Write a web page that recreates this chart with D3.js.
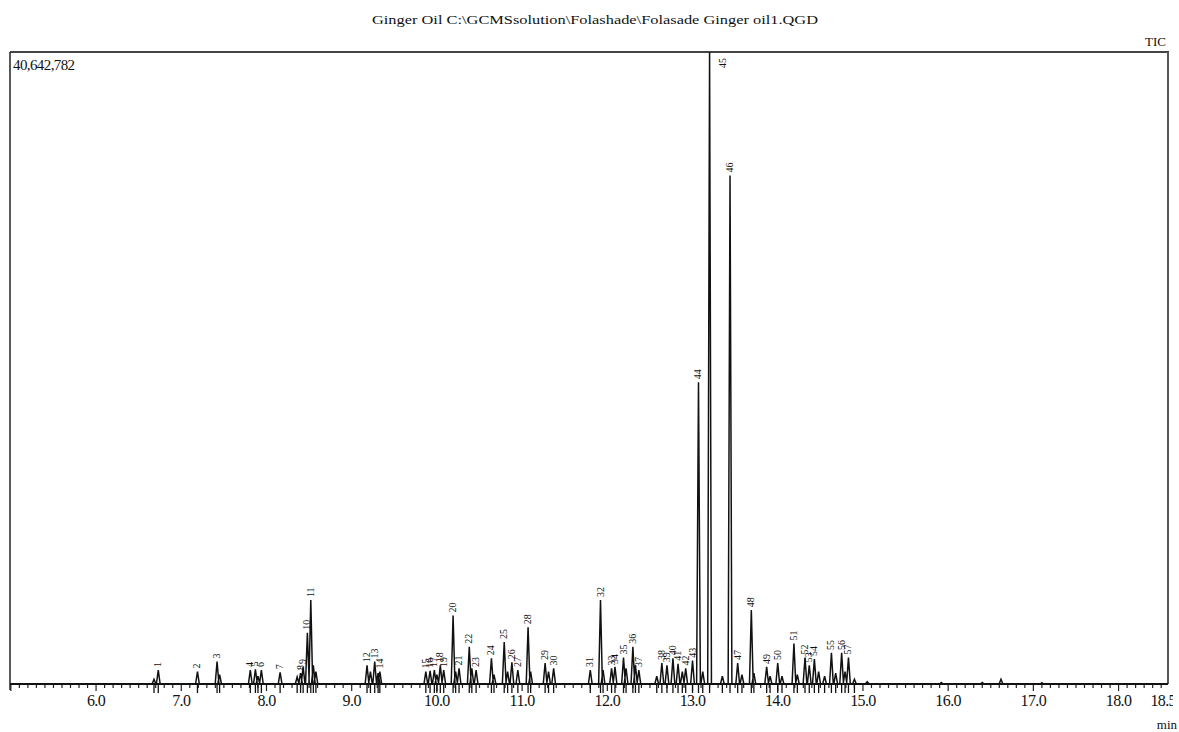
<!DOCTYPE html>
<html>
<head>
<meta charset="utf-8">
<script src="https://cdn.jsdelivr.net/npm/d3@7"></script>
<style>
  html, body { margin: 0; padding: 0; background: #fff; }
  svg { display: block; }
  text { font-family: "Liberation Serif", "DejaVu Serif", serif; fill: #111; }
</style>
</head>
<body>
<div id="chart"></div>
<script>
// labelled peaks: number, retention time (min), intensity (millions)
const peakIds   = [1, 2, 3, 4, 5, 6, 7, 8, 9, 10, 11, 12, 13, 14, 15, 16, 17, 18, 19, 20,
                   21, 22, 23, 24, 25, 26, 27, 28, 29, 30, 31, 32, 33, 34, 35, 36, 37, 38, 39, 40,
                   41, 42, 43, 44, 45, 46, 47, 48, 49, 50, 51, 52, 53, 54, 55, 56, 57];
const peakTimes = [6.73, 7.19, 7.42, 7.81, 7.87, 7.94, 8.16, 8.40, 8.43, 8.48, 8.52, 9.18, 9.27, 9.33, 9.87, 9.92, 9.97, 10.04, 10.08, 10.19,
                   10.26, 10.38, 10.46, 10.64, 10.79, 10.88, 10.95, 11.07, 11.27, 11.37, 11.80, 11.92, 12.05, 12.09, 12.19, 12.30, 12.37, 12.64, 12.70, 12.77,
                   12.83, 12.92, 13.00, 13.07, 13.20, 13.44, 13.53, 13.69, 13.87, 14.00, 14.19, 14.32, 14.37, 14.43, 14.63, 14.75, 14.83];
const peakHeights = [0.9, 0.8, 1.45, 0.9, 0.95, 0.9, 0.75, 0.7, 1.1, 3.3, 5.4, 1.2, 1.45, 0.8, 0.8, 0.85, 0.9, 1.2, 0.9, 4.4,
                     1.0, 2.4, 0.9, 1.65, 2.7, 1.4, 0.9, 3.65, 1.35, 1.0, 0.9, 5.4, 1.0, 1.1, 1.7, 2.4, 0.9, 1.35, 1.2, 1.65,
                     1.3, 1.0, 1.5, 19.4, 40.64, 32.7, 1.35, 4.75, 1.1, 1.35, 2.6, 1.7, 1.2, 1.6, 2.0, 2.0, 1.7];

// small unlabelled peaks
const minorTimes   = [6.68, 7.45, 7.90, 8.36, 8.55, 8.58, 9.22, 9.31, 10.00, 10.22, 10.41, 10.67, 10.83, 11.10, 11.31,
                      11.95, 12.22, 12.33, 12.58, 12.88, 13.12, 13.35, 13.58, 13.72, 13.91, 14.05, 14.23, 14.48, 14.55,
                      14.68, 14.79, 14.90, 15.05, 15.92, 16.40, 16.62, 17.10];
const minorHeights = [0.3, 0.6, 0.5, 0.45, 1.2, 0.8, 0.8, 0.7, 0.6, 0.8, 1.0, 0.6, 0.8, 0.8, 0.8,
                      0.9, 1.0, 1.2, 0.5, 0.8, 0.8, 0.5, 0.6, 0.7, 0.5, 0.5, 0.6, 0.8, 0.5,
                      0.7, 0.8, 0.3, 0.15, 0.1, 0.1, 0.3, 0.08];

const xTicks = [6, 7, 8, 9, 10, 11, 12, 13, 14, 15, 16, 17, 18, 18.5];
const yMax = 40.642782; // millions
const titleText = "Ginger Oil C:\\GCMSsolution\\Folashade\\Folasade Ginger oil1.QGD";

const W = 1179, H = 732;
const plotL = 10, plotR = 1168, plotT = 52, base = 684;

const svg = d3.select("#chart").append("svg")
  .attr("width", W).attr("height", H).attr("viewBox", `0 0 ${W} ${H}`);

const x = d3.scaleLinear().domain([4.99, 18.58]).range([plotL, plotR]);
const y = d3.scaleLinear().domain([0, yMax]).range([base, plotT]);

// title & corner labels
svg.append("text").attr("x", 595).attr("y", 24).attr("text-anchor", "middle")
  .attr("font-size", 13).attr("textLength", 446).attr("lengthAdjust", "spacingAndGlyphs")
  .text(titleText);
svg.append("text").attr("x", 1166).attr("y", 46).attr("text-anchor", "end")
  .attr("font-size", 13).text("TIC");
svg.append("text").attr("x", 13).attr("y", 70).attr("font-size", 15)
  .attr("letter-spacing", -0.6).text(d3.format(",")(Math.round(yMax * 1e6)));
svg.append("text").attr("x", 1177).attr("y", 729).attr("text-anchor", "end")
  .attr("font-size", 13).text("min");

// frame
svg.append("line").attr("x1", plotL).attr("x2", plotR + 1).attr("y1", plotT).attr("y2", plotT)
  .attr("stroke", "#444").attr("stroke-width", 2);
svg.append("line").attr("x1", plotL).attr("x2", plotL).attr("y1", plotT).attr("y2", base + 6)
  .attr("stroke", "#222").attr("stroke-width", 1.5);
svg.append("line").attr("x1", plotR).attr("x2", plotR).attr("y1", plotT).attr("y2", base)
  .attr("stroke", "#555").attr("stroke-width", 2);

// x axis: minor ticks every 0.1 min, labelled majors
const minor = d3.range(50, 186).map(d => d / 10);
svg.append("g").selectAll("line").data(minor).join("line")
  .attr("x1", d => x(d)).attr("x2", d => x(d))
  .attr("y1", base).attr("y2", d => Number.isInteger(d) ? base + 7 : base + 4)
  .attr("stroke", "#222").attr("stroke-width", 1.2);

const clip = svg.append("clipPath").attr("id", "pageclip");
clip.append("rect").attr("x", 0).attr("y", 0).attr("width", 1173).attr("height", H);
svg.append("g").attr("clip-path", "url(#pageclip)")
  .selectAll("text").data(xTicks).join("text")
  .attr("x", d => x(d) + (d > 18.2 ? 2 : 0)).attr("y", 706).attr("text-anchor", "middle")
  .attr("font-size", 16).attr("letter-spacing", -0.6)
  .text(d => d.toFixed(1));

// peak start/end markers below the baseline
const allTimes = peakTimes.concat(minorTimes.filter(t => t < 14.95));
svg.append("g").selectAll("line").data(allTimes).join("line")
  .attr("x1", d => x(d)).attr("x2", d => x(d))
  .attr("y1", base).attr("y2", base + 9)
  .attr("stroke", "#111").attr("stroke-width", 1.3);

// chromatogram trace: each peak a narrow spike
const peaks = peakTimes.map((t, i) => ({ t, h: peakHeights[i], id: peakIds[i] }))
  .concat(minorTimes.map((t, i) => ({ t, h: minorHeights[i], id: null })))
  .sort((a, b) => a.t - b.t);

const hw = 0.022;
const pts = [[4.99, 0]];
peaks.forEach(p => {
  pts.push([p.t - hw, 0], [p.t, p.h], [p.t + hw, 0]);
});
pts.push([18.58, 0]);

const line = d3.line().x(d => x(d[0])).y(d => y(d[1]));
svg.append("path").datum(pts)
  .attr("fill", "none").attr("stroke", "#111").attr("stroke-width", 1.5)
  .attr("d", line);

// baseline
svg.append("line").attr("x1", plotL).attr("x2", plotR).attr("y1", base).attr("y2", base)
  .attr("stroke", "#111").attr("stroke-width", 2);

// peak number labels, rotated
svg.append("g").selectAll("text").data(peaks.filter(p => p.id !== null)).join("text")
  .attr("font-size", 10)
  .attr("transform", p => {
    if (y(p.h) < plotT + 20) return `translate(${x(p.t) + 16},${plotT + 16}) rotate(-90)`;
    return `translate(${x(p.t) + 3},${y(p.h) - 3}) rotate(-90)`;
  })
  .text(p => p.id);
</script>
</body>
</html>
